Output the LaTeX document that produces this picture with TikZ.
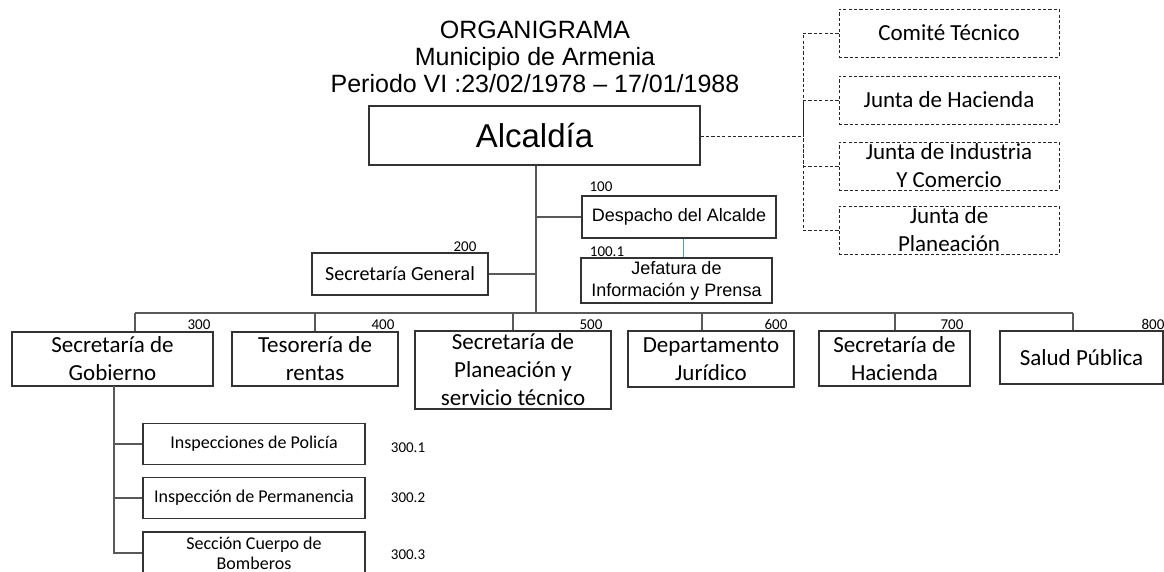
\documentclass[tikz,border=0pt]{standalone}
\usepackage{fontspec}
\setmainfont{Carlito}
\newfontfamily\arial{Liberation Sans}
\definecolor{boxline}{gray}{0.2}
\definecolor{conline}{gray}{0.35}
\definecolor{tealline}{RGB}{80,160,180}
\tikzset{
  box/.style={draw=boxline, line width=1.1pt, rectangle, inner sep=0pt, align=center, fill=white},
  dbox/.style={draw=black!85, line width=0.9pt, dash pattern=on 3.2pt off 2.2pt, rectangle, inner sep=0pt, align=center, fill=white,
    minimum width=220pt, minimum height=48pt, font=\fontsize{23}{28}\selectfont},
  conn/.style={draw=conline, line width=1.1pt},
  dconn/.style={draw=black!85, line width=0.9pt, dash pattern=on 3.2pt off 2.2pt},
  num/.style={inner sep=0pt, anchor=base, font=\fontsize{15}{17}\selectfont},
  big/.style={box, font=\fontsize{23}{28}\selectfont},
  sub/.style={box, minimum width=222pt, minimum height=41pt, font=\fontsize{18}{22}\selectfont},
  ttl/.style={inner sep=0pt, anchor=base, font=\arial\fontsize{25}{28}\selectfont}
}
\begin{document}
\begin{tikzpicture}[x=1pt, y=-1pt]
\clip (0,0) rectangle (1164,571);
\fill[white] (0,0) rectangle (1164,571);
% title
\node[ttl] (t1) at (535,38) {ORGANIGRAMA};
\node[ttl] (t2) at (535,65) {Municipio de Armenia};
\node[ttl] (t3) at (535,92) {Periodo VI :23/02/1978 – 17/01/1988};
% Alcaldia
\node[box, minimum width=331pt, minimum height=59pt, font=\arial\fontsize{33}{36}\selectfont] (alc) at (534.5,135.5) {Alcaldía};
% dashed committees
\node[dbox] (comite) at (949,33) {Comité Técnico};
\node[dbox] (hac) at (949,100) {Junta de Hacienda};
\node[dbox] (ind) at (949,166) {Junta de Industria\\Y Comercio};
\node[dbox] (plan) at (949,230) {Junta de\\Planeación};
\coordinate (dj) at (803,136);
\draw[dconn] (alc.east |- dj) -- (dj);
\draw[dconn] (comite.west) -| (dj);
\draw[dconn] (hac.west) -| (dj);
\draw[dconn] (ind.west) -| (dj);
\draw[dconn] (plan.west) -| (dj);
% trunk
\coordinate (bus) at (536,313);
\draw[conn] (alc.south -| bus) -- (bus);
% despacho / jefatura
\node[box, minimum width=194pt, minimum height=42pt, font=\arial\fontsize{18}{22}\selectfont] (desp) at (679,217) {Despacho del Alcalde};
\node[box, minimum width=191pt, minimum height=45pt, font=\arial\fontsize{18}{22}\selectfont] (jef) at (676.5,280.5) {Jefatura de\\Información y Prensa};
\draw[conn] (desp.west) -- (desp.west -| bus);
\draw[draw=tealline, line width=0.9pt] ([xshift=4pt]desp.south) -- ([xshift=4pt]desp.south |- jef.north);
\node[num] (n100) at (601,191) {100};
\node[num] (n1001) at (607,256) {100.1};
% secretaria general
\node[box, minimum width=176pt, minimum height=42pt, font=\fontsize{20}{24}\selectfont] (secgen) at (400,274) {Secretaría General};
\draw[conn] (secgen.east) -- (secgen.east -| bus);
\node[num] (n200) at (465,251) {200};
% bus
\coordinate (b3) at (135,313);
\coordinate (b4) at (315,313);
\coordinate (b5) at (513,313);
\coordinate (b6) at (702,313);
\coordinate (b7) at (895,313);
\coordinate (b8) at (1073,313);
\draw[conn] (b3) -- (b8);
% departments
\node[big, minimum width=201pt, minimum height=54pt] (g300) at (112.5,359) {Secretaría de\\Gobierno};
\node[big, minimum width=166pt, minimum height=54pt] (t400) at (315,359) {Tesorería de\\rentas};
\node[big, minimum width=196pt, minimum height=78pt] (p500) at (513,370) {Secretaría de\\Planeación y\\servicio técnico};
\node[big, minimum width=166pt, minimum height=56pt] (d600) at (711,359) {Departamento\\Jurídico};
\node[big, minimum width=151pt, minimum height=55pt] (h700) at (894.5,358.5) {Secretaría de\\Hacienda};
\node[big, minimum width=163pt, minimum height=53pt] (s800) at (1081.5,357.5) {Salud Pública};
\draw[conn] (b3) -- (b3 |- g300.north);
\draw[conn] (b4) -- (b4 |- t400.north);
\draw[conn] (b5) -- (b5 |- p500.north);
\draw[conn] (b6) -- (b6 |- d600.north);
\draw[conn] (b7) -- (b7 |- h700.north);
\draw[conn] (b8) -- (b8 |- s800.north);
\node[num] (n300) at (199,329) {300};
\node[num] (n400) at (383,329) {400};
\node[num] (n500) at (591,329) {500};
\node[num] (n600) at (776,329) {600};
\node[num] (n700) at (952,329) {700};
\node[num] (n800) at (1153,329) {800};
% sub units of 300
\node[sub] (s1) at (254,444) {Inspecciones de Policía};
\node[sub] (s2) at (254,498) {Inspección de Permanencia};
\node[sub, minimum height=42pt, font=\fontsize{18}{20}\selectfont] (s3) at (254,553) {Sección Cuerpo de\\Bomberos};
\coordinate (vt) at (114,386);
\draw[conn] (vt) -- (s3.west -| vt) -- (s3.west);
\draw[conn] (s1.west -| vt) -- (s1.west);
\draw[conn] (s2.west -| vt) -- (s2.west);
\node[num] (n3001) at (408,452) {300.1};
\node[num] (n3002) at (408,502) {300.2};
\node[num] (n3003) at (408,559) {300.3};
\end{tikzpicture}
\end{document}
